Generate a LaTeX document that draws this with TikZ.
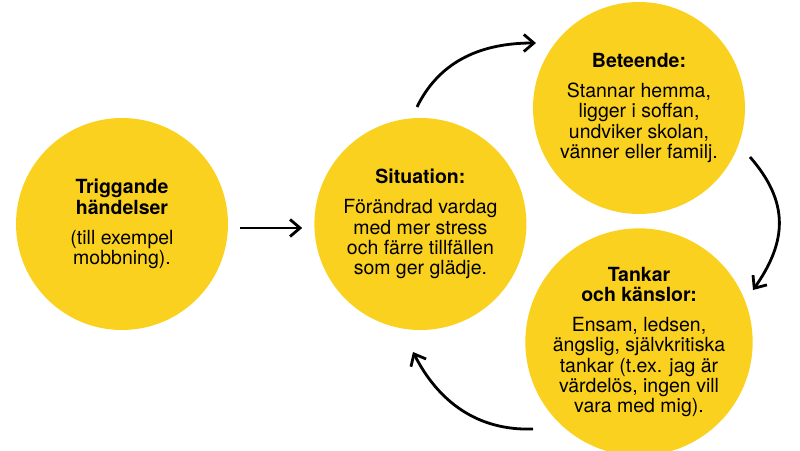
\documentclass[tikz,border=0pt]{standalone}
\usepackage{fontspec}
\setmainfont{TeX Gyre Heros}
\usetikzlibrary{arrows.meta}
\usetikzlibrary{positioning}

\definecolor{sunyellow}{RGB}{250,209,30}

\begin{document}
\begin{tikzpicture}[x=1pt, y=1pt,
        bubble/.style={circle, fill=sunyellow, minimum size=212pt, inner sep=0pt, align=center, font=\fontsize{19.5}{20.2}\selectfont},
        flow/.style={line width=2.8pt, -{Straight Barb[length=10pt, width=17pt]}}]
        \useasboundingbox (0,0) rectangle (800,450);

        \node[bubble] (trig) at (122,226) {\textbf{Triggande}\\ \textbf{händelser}\\[10pt] (till exempel\\ mobbning).};
        \node[bubble] (sit) [right=86pt of trig] {\textbf{Situation:}\\[10pt] Förändrad vardag\\ med mer stress\\ och färre tillfällen\\ som ger glädje.};
        \node[bubble] (beh) at (639,342) {\textbf{Beteende:}\\[10pt] Stannar hemma,\\ ligger i soffan,\\ undviker skolan,\\ vänner eller familj.};
        \node[bubble] (tank) at (639,108) {\textbf{Tankar}\\ \textbf{och känslor:}\\[10pt] Ensam, ledsen,\\ ängslig, självkritiska\\ tankar (t.ex. jag är\\ värdelös, ingen vill\\ vara med mig).};

        \coordinate (up1) at (417,343);
        \coordinate (up2) at (536,407);
        \coordinate (rt1) at (750,293);
        \coordinate (rt2) at (753,160);
        \coordinate (lo1) at (533,21);
        \coordinate (lo2) at (413,98);

        \draw[flow] ([xshift=12pt, yshift=-4pt]trig.east) -- ([xshift=-12pt, yshift=-4pt]sit.west);
        \draw[flow] (up1) to[out=64, in=180] (up2);
        \draw[flow] (rt1) to[out=-49, in=55, looseness=1.15] (rt2);
        \draw[flow] (lo1) to[out=182, in=-63] (lo2);
    \end{tikzpicture}
\end{document}
